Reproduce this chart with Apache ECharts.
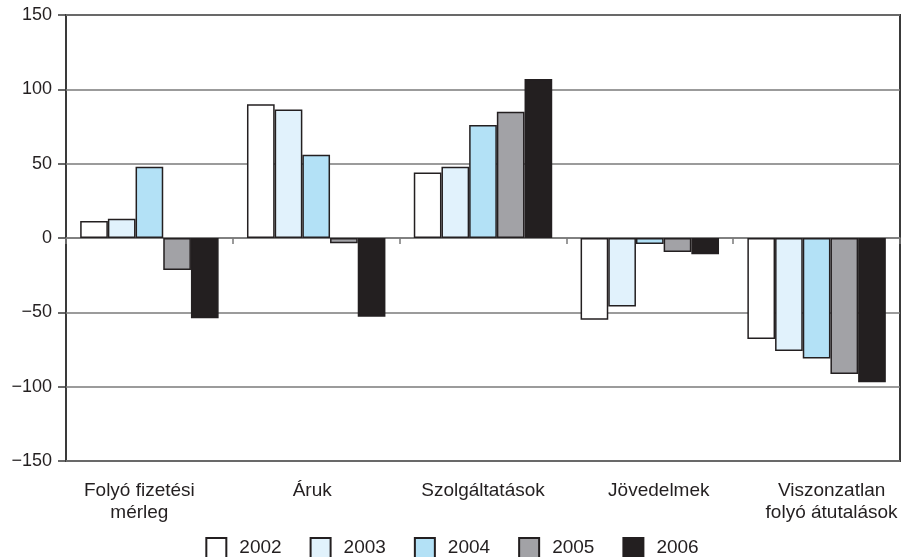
<!DOCTYPE html>
<html>
<head>
<meta charset="utf-8">
<script src="https://cdn.jsdelivr.net/npm/echarts@6/dist/echarts.min.js"></script>
<style>
  html, body { margin: 0; padding: 0; background: #ffffff; }
  #chart { width: 904px; height: 557px; }
</style>
</head>
<body>
<div id="chart"></div>
<script>
// Current account components by year
const categories = ['Folyó fizetési\nmérleg', 'Áruk', 'Szolgáltatások', 'Jövedelmek', 'Viszonzatlan\nfolyó átutalások'];
const years = ['2002', '2003', '2004', '2005', '2006'];
const values2002 = [11.5, 90, 44, -55, -68];
const values2003 = [13, 86.5, 48, -46, -76];
const values2004 = [48, 56, 76, -4, -81];
const values2005 = [-21.5, -3.5, 85, -9.5, -91.5];
const values2006 = [-54, -53, 107, -11, -97];
const yTicks = [-150, -100, -50, 0, 50, 100, 150];

const seriesValues = [values2002, values2003, values2004, values2005, values2006];
const fills = ['#ffffff', '#e1f2fc', '#b3e1f6', '#a2a2a6', '#231f20'];
const ink = '#231f20';
const font = 'Liberation Sans';

// horizontal nudge (px) of each category label from its slot centre
const labelShift = [-10, -4, 0, 9, 15];
const categoryItems = categories.map((name, i) => {
  const s = labelShift[i];
  return {
    value: name,
    textStyle: { padding: s < 0 ? [0, -2 * s, 0, 0] : [0, 0, 0, 2 * s] }
  };
});

const chart = echarts.init(document.getElementById('chart'));

chart.setOption({
  animation: false,
  textStyle: { fontFamily: font },
  grid: {
    left: 66, right: 4, top: 15, bottom: 96,
    show: true, borderColor: '#3a3a3a', borderWidth: 2, backgroundColor: 'transparent'
  },
  legend: {
    data: years,
    top: 532,
    left: 'center',
    itemWidth: 20,
    itemHeight: 20,
    itemGap: 28,
    textStyle: { fontSize: 19, color: '#231f20', fontFamily: font, padding: [0, 0, 0, 8] },
    icon: 'rect'
  },
  xAxis: [
    {
      type: 'category',
      data: categoryItems,
      position: 'bottom',
      axisLine: { show: false, onZero: false },
      axisTick: { show: false },
      axisLabel: { interval: 0, fontSize: 19, color: '#231f20', lineHeight: 22, margin: 19 }
    },
    {
      type: 'category',
      data: categories,
      position: 'bottom',
      axisLine: { show: true, onZero: true, lineStyle: { color: '#7a7a7a', width: 1.5 } },
      axisTick: { show: true, length: 6, lineStyle: { color: '#7a7a7a', width: 1.5 } },
      axisLabel: { show: false }
    }
  ],
  yAxis: {
    type: 'value',
    min: yTicks[0],
    max: yTicks[yTicks.length - 1],
    interval: 50,
    axisLine: { show: false },
    axisTick: { show: true, length: 8, lineStyle: { color: '#3a3a3a', width: 1.5 } },
    axisLabel: {
      fontSize: 18, color: '#231f20', margin: 14,
      formatter: v => (v < 0 ? '\u2212' + Math.abs(v) : String(v))
    },
    splitLine: { show: true, lineStyle: { color: '#7a7a7a', width: 1.5 } }
  },
  series: years.map((y, i) => ({
    name: y,
    type: 'bar',
    xAxisIndex: 0,
    data: seriesValues[i],
    barGap: '0%',
    barCategoryGap: '17%',
    itemStyle: { color: fills[i], borderColor: ink, borderWidth: 1.5 }
  }))
});
</script>
</body>
</html>
